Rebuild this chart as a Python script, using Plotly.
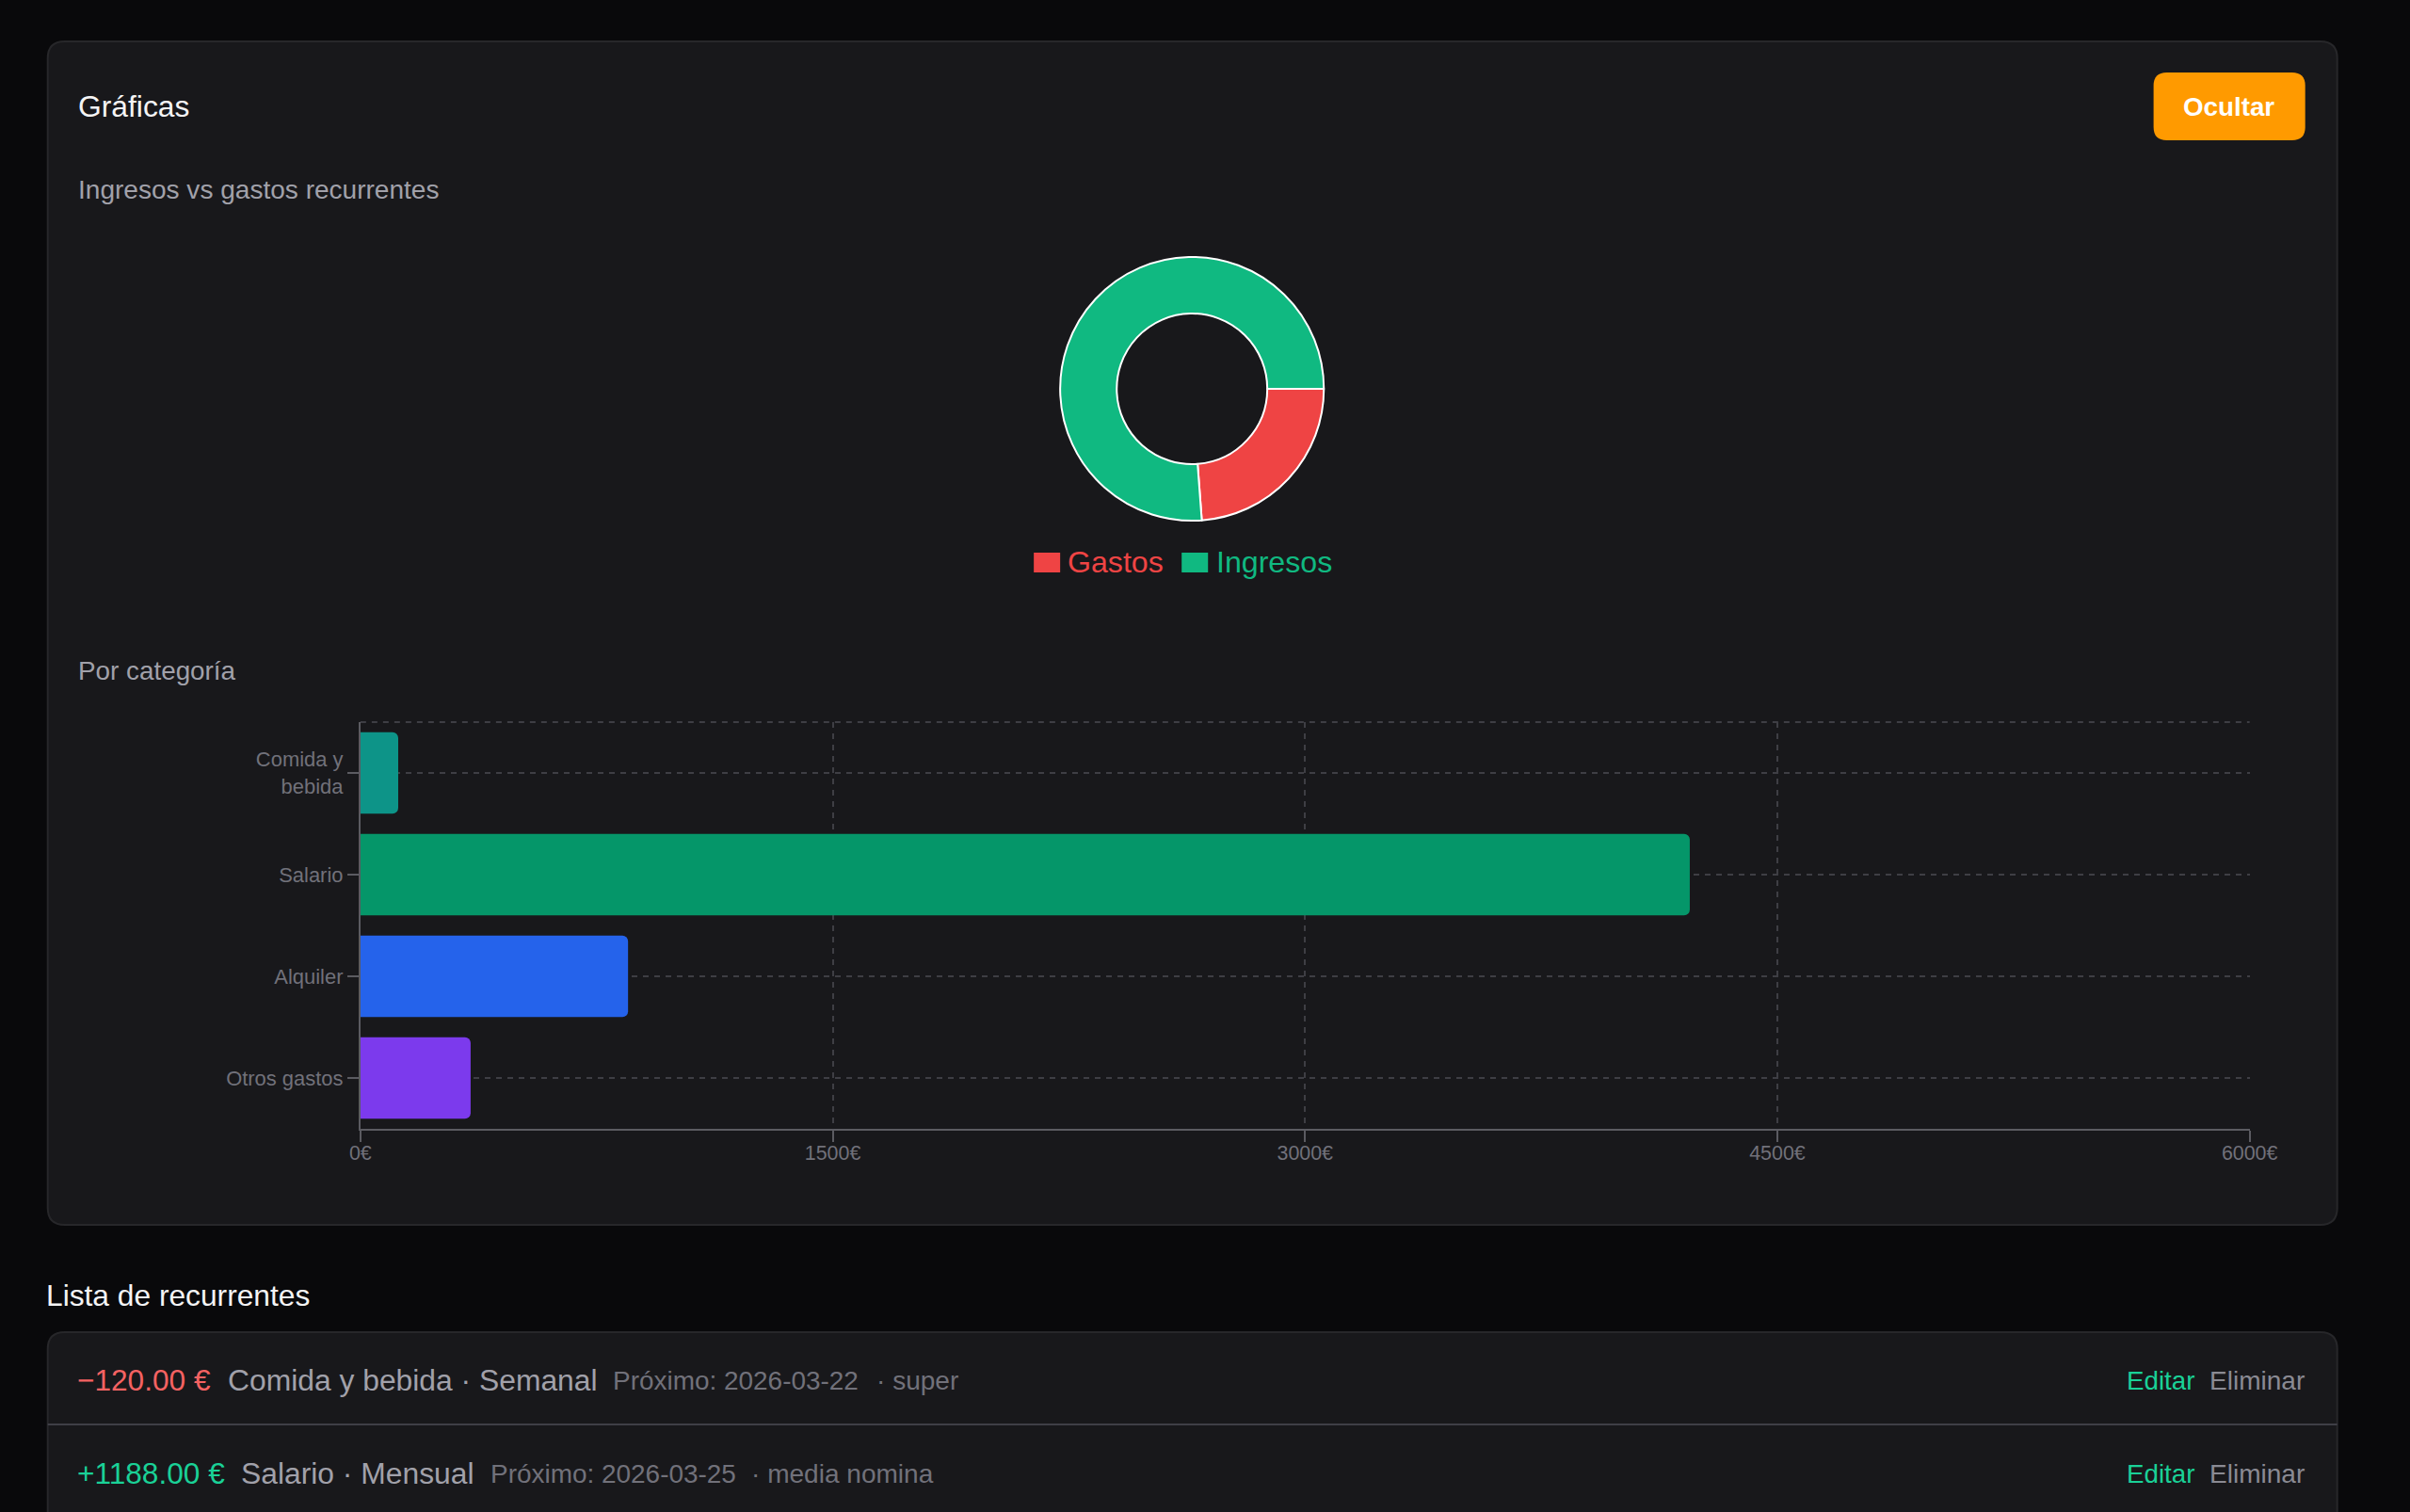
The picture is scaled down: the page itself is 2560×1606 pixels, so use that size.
import plotly.graph_objects as go

W, H = 2560, 1606
FONT = "Liberation Sans, Arial, Helvetica, sans-serif"

# ---------------- data ----------------
donut_labels = ["Gastos", "Ingresos"]
donut_values = [1320, 4222]
donut_colors = ["#ef4444", "#10b981"]

categories = ["Comida y bebida", "Salario", "Alquiler", "Otros gastos"]
category_ticktext = ["Comida y<br>bebida", "Salario", "Alquiler", "Otros gastos"]
category_values = [120, 4222, 850, 350]
category_colors = ["#0d9488", "#059669", "#2563eb", "#7c3aed"]

x_tickvals = [0, 1500, 3000, 4500, 6000]
x_ticktext = ["0\u20ac", "1500\u20ac", "3000\u20ac", "4500\u20ac", "6000\u20ac"]

rows = [
    {"amount": "\u2212120.00 \u20ac", "amount_color": "#f46262",
     "main": "Comida y bebida \u00b7 Semanal", "next": "Pr\u00f3ximo: 2026-03-22", "note": "\u00b7 super",
     "x_main": 242, "x_next": 651, "x_note": 931},
    {"amount": "+1188.00 \u20ac", "amount_color": "#1ad197",
     "main": "Salario \u00b7 Mensual", "next": "Pr\u00f3ximo: 2026-03-25", "note": "\u00b7 media nomina",
     "x_main": 256, "x_next": 521, "x_note": 798},
]

# horizontal calibration of the photographed page (measured from earlier renders)
CAL_A, CAL_B = 11.3, 0.9832
FS = 1.02  # font compensation for the horizontal squeeze
ANN_DX = -3  # annotation box padding


def X(px):
    return ((px - CAL_A) / CAL_B) / W


def Y(py):
    return 1 - py / H


def rrect_path(x0, y0, x1, y1, r):
    pts = [
        ("M", [(x0 + r, y0)]),
        ("L", [(x1 - r, y0)]),
        ("Q", [(x1, y0), (x1, y0 + r)]),
        ("L", [(x1, y1 - r)]),
        ("Q", [(x1, y1), (x1 - r, y1)]),
        ("L", [(x0 + r, y1)]),
        ("Q", [(x0, y1), (x0, y1 - r)]),
        ("L", [(x0, y0 + r)]),
        ("Q", [(x0, y0), (x0 + r, y0)]),
    ]
    s = ""
    for cmd, coords in pts:
        s += cmd + " " + " ".join(f"{X(a):.6f},{Y(b):.6f}" for a, b in coords) + " "
    return s + "Z"


fig = go.Figure()

# donut
fig.add_trace(go.Pie(
    labels=donut_labels, values=donut_values,
    marker=dict(colors=donut_colors, line=dict(color="#ffffff", width=2)),
    hole=0.571, sort=False, direction="clockwise", rotation=90,
    textinfo="none", hoverinfo="label+value", showlegend=False,
    domain=dict(x=[X(1265 - 140), X(1265 + 140)], y=[Y(413 + 141), Y(413 - 141)]),
))

# bars
fig.add_trace(go.Bar(
    y=categories, x=category_values, orientation="h",
    marker=dict(color=category_colors, cornerradius=6, line=dict(width=0)),
    width=0.8, showlegend=False, hoverinfo="x+y",
))

GRID = "#3e3e44"
AXIS = "#5b5b61"
TICK = "#71717a"

fig.update_layout(
    width=W, height=H, margin=dict(l=0, r=0, t=0, b=0),
    paper_bgcolor="#09090b", plot_bgcolor="rgba(0,0,0,0)",
    font=dict(family=FONT, color=TICK, size=20),
    showlegend=False,
    xaxis=dict(
        domain=[X(382), X(2388)], range=[0, 6000],
        tickvals=x_tickvals, ticktext=x_ticktext,
        showgrid=True, gridcolor=GRID, gridwidth=2, griddash="6px,6px",
        showline=True, linecolor=AXIS, linewidth=2,
        ticks="outside", ticklen=12, tickcolor=AXIS, tickwidth=2,
        ticklabelstandoff=-7,
        tickfont=dict(size=21 * FS, color=TICK, family=FONT),
        zeroline=False, fixedrange=True,
    ),
    yaxis=dict(
        domain=[Y(1199), Y(767)],
        categoryorder="array", categoryarray=categories,
        tickvals=categories, ticktext=category_ticktext,
        autorange="reversed",
        showgrid=True, gridcolor=GRID, gridwidth=2, griddash="6px,6px",
        showline=True, linecolor=AXIS, linewidth=2,
        ticks="outside", ticklen=12, tickcolor=AXIS, tickwidth=2,
        tickfont=dict(size=21.5 * FS, color=TICK, family=FONT),
        zeroline=False, fixedrange=True,
    ),
)

shapes = []
# main card
shapes.append(dict(type="path", path=rrect_path(50, 44, 2481, 1301, 18), xref="paper", yref="paper",
                   fillcolor="#18181b", line=dict(color="#27272a", width=2), layer="below"))
# list card
shapes.append(dict(type="path", path=rrect_path(50, 1415, 2481, 1700, 18), xref="paper", yref="paper",
                   fillcolor="#18181b", line=dict(color="#27272a", width=2), layer="below"))
# row separator
shapes.append(dict(type="line", x0=X(50), x1=X(2481), y0=Y(1513), y1=Y(1513), xref="paper", yref="paper",
                   line=dict(color="#3f3f46", width=2), layer="below"))
# button
shapes.append(dict(type="path", path=rrect_path(2286, 77, 2447, 149, 14), xref="paper", yref="paper",
                   fillcolor="#ff9a00", line=dict(width=0), layer="below"))
# top dashed border of bar plot
shapes.append(dict(type="line", x0=X(382), x1=X(2388), y0=Y(767), y1=Y(767), xref="paper", yref="paper",
                   line=dict(color=GRID, width=2, dash="6px,6px"), layer="below"))
# legend squares
shapes.append(dict(type="rect", x0=X(1097), x1=X(1125), y0=Y(608), y1=Y(587), xref="paper", yref="paper",
                   fillcolor=donut_colors[0], line=dict(width=0)))
shapes.append(dict(type="rect", x0=X(1254), x1=X(1282), y0=Y(608), y1=Y(587), xref="paper", yref="paper",
                   fillcolor=donut_colors[1], line=dict(width=0)))
fig.update_layout(shapes=shapes)

ann = []


def text(x, y, s, size, color, anchor="left", bold=False):
    dx = ANN_DX if anchor == "left" else 0
    ann.append(dict(x=X(x + dx), y=Y(y), xref="paper", yref="paper", text=("<b>%s</b>" % s) if bold else s,
                    showarrow=False, xanchor=anchor, yanchor="middle",
                    font=dict(family=FONT, size=size * FS, color=color)))


text(83, 113, "Gr\u00e1ficas", 31.2, "#f4f4f5")
text(2366, 113, "Ocultar", 27.2, "#ffffff", anchor="center", bold=True)
text(83, 201, "Ingresos vs gastos recurrentes", 27.5, "#a1a1aa")
text(1134, 597, donut_labels[0], 31.5, donut_colors[0])
text(1292, 597, donut_labels[1], 31.5, donut_colors[1])
text(83, 712, "Por categor\u00eda", 27.3, "#a1a1aa")
text(49, 1376, "Lista de recurrentes", 31.1, "#f4f4f5")

row_y = [1466, 1565]
for r, yy in zip(rows, row_y):
    text(82, yy, r["amount"], 31.0, r["amount_color"])
    text(r["x_main"], yy, r["main"], 31.2, "#a1a1aa")
    text(r["x_next"], yy, r["next"], 27.4, "#71717a")
    text(r["x_note"], yy, r["note"], 27.5, "#71717a")
    text(2258, yy, "Editar", 27.2, "#1ad197")
    text(2346, yy, "Eliminar", 27.5, "#8a8a93")

fig.update_layout(annotations=ann)

fig.write_html("out.html", config={"displayModeBar": False})
